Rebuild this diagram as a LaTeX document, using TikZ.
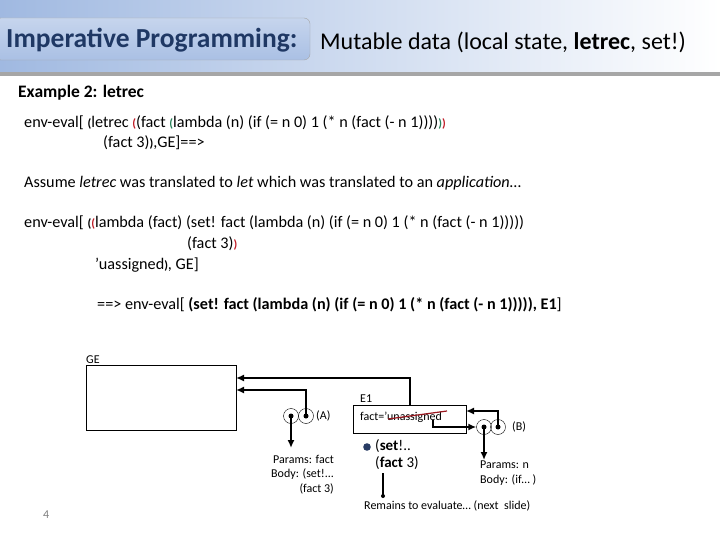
\documentclass[tikz,border=0pt]{standalone}
\usepackage{fontspec}
\setmainfont{Carlito}
\usepackage{tikz}
\usetikzlibrary{arrows.meta}
\definecolor{titleblue}{RGB}{31, 56, 100}
\definecolor{bandblue}{RGB}{160, 185, 225}
\definecolor{parred}{RGB}{192, 30, 40}
\definecolor{pargreen}{RGB}{40, 130, 90}
\definecolor{dotblue}{RGB}{40, 60, 100}
\newcommand{\rp}[1]{\textcolor{parred}{\textbf{\large #1}}}
\newcommand{\gp}[1]{\textcolor{pargreen}{\textbf{\large #1}}}
\tikzset{
    txt/.style={anchor=west, inner sep=0pt, font=\fontsize{16.2}{18}\selectfont},
    small/.style={anchor=west, inner sep=0pt, font=\fontsize{12}{14.5}\selectfont},
    ptr/.style={line width=1.8pt, -{Latex[length=8pt, width=7pt]}},
    cell/.style={circle, draw, thin, minimum size=15pt, inner sep=0pt}
}
\begin{document}
\begin{tikzpicture}[x=1pt, y=-1pt]
    \useasboundingbox (0,0) rectangle (720,540);
    % Title band
    \shade[left color=bandblue, right color=white] (0,0) rectangle (720,72);
    \fill[gray!70] (0,72) rectangle (720,76);
    \shade[top color=bandblue!60, bottom color=bandblue!90, draw=gray!70, rounded corners=6pt]
        (-5,18) rectangle (310,60);
    \node[anchor=west, inner sep=0pt, font=\fontsize{27.5}{30}\selectfont\bfseries, text=titleblue] (title) at (6,40) {Imperative Programming:};
    \node[anchor=west, inner sep=0pt, font=\fontsize{24}{28}\selectfont] (subtitle) at (320,42) {Mutable data (local state, \textbf{letrec}, set!)};

    % Text
    \node[txt, font=\fontsize{17.5}{20}\selectfont\bfseries] (ex) at (18,93) {Example 2: letrec};
    \node[txt] (l1) at (24,123) {env-eval[ \textbf{\large(}letrec \rp{(}(fact \gp{(}lambda (n) (if (= n 0) 1 (* n (fact (- n 1))))\gp{)}\rp{)}};
    \node[txt] (l2) at (103,143) {(fact 3)\textbf{\large)},GE]==>};
    \node[txt] (l3) at (24,183) {Assume \textit{letrec} was translated to \textit{let} which was translated to an \textit{application}\dots};
    \node[txt] (l4) at (24,223) {env-eval[ \textbf{\large(}\rp{(}lambda (fact) (set! fact (lambda (n) (if (= n 0) 1 (* n (fact (- n 1)))))};
    \node[txt] (l5) at (187,244) {(fact 3)\rp{)}};
    \node[txt] (l6) at (95,265) {'uassigned\textbf{\large)}, GE]};
    \node[txt] (l7) at (97,305) {==> env-eval[ \textbf{(set! fact (lambda (n) (if (= n 0) 1 (* n (fact (- n 1))))), E1}]};

    % Environments
    \node[small, anchor=south west] (gelab) at (86,364) {GE};
    \draw (86,365) rectangle (236,430);
    \coordinate (ge1) at (236,378);
    \coordinate (ge2) at (236,390);
    \node[small, anchor=south west] (e1lab) at (360,403) {E1};
    \draw (353,405) rectangle (466,433);
    \node[small] (fact) at (360,417) {fact='unassigned};
    \draw[parred!80!black, very thick] (388,419) -- (447,411);

    % Closure A
    \node[cell] (a1) at (291,416) {};
    \node[cell] (a2) at (306,416) {};
    \fill (a1) circle (2.5pt) (a2) circle (2.5pt);
    \node[small] (alab) at (316,416) {(A)};
    \draw[ptr] (a2.center) |- (ge2);
    \draw[ptr] (a1.center) -- (291,448);
    \node[small, align=right, anchor=north west] (aparams) at (271,455) {Params: fact\\Body: (set!...\\(fact 3)};

    % Closure B
    \node[cell] (b1) at (484,427) {};
    \node[cell] (b2) at (498,427) {};
    \fill (b1) circle (2.5pt) (b2) circle (2.5pt);
    \node[small] (blab) at (512,427) {(B)};
    \draw[ptr] (b2.center) |- (466,411);
    \draw[ptr] (433,420) |- (b1.west);
    \draw[ptr] (b1.center) -- (484,460);
    \node[small, align=left, anchor=north west] (bparams) at (480,461) {Params: n\\Body: (if\dots\ )};
    \draw[ptr] (410,405) |- (ge1);

    % Remaining body
    \fill[dotblue] (367,447) circle (3.8pt);
    \node[txt, font=\fontsize{15}{18}\selectfont] (body1) at (375,446) {(\textbf{set}!..};
    \node[txt, font=\fontsize{15}{18}\selectfont] (body2) at (375,463) {(\textbf{fact} 3)};
    \coordinate (rem) at (383,496);
    \draw[line width=1.8pt] (383,473) -- (rem);
    \fill (rem) circle (2pt);
    \node[small] (remains) at (364,506) {Remains to evaluate\dots\ (next\ \ slide)};
    \node[small, text=gray] (page) at (43,515) {4};
\end{tikzpicture}
\end{document}
